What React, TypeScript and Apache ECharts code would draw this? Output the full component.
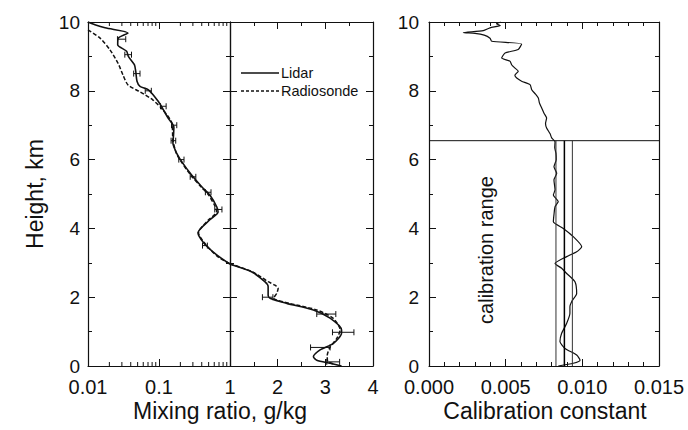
import React, { useEffect, useRef } from "react";
import * as echarts from "echarts";

// ---------- data ----------
const lidarHeight = [10.0, 9.92, 9.83, 9.68, 9.53, 9.34, 9.15, 9.0, 8.76, 8.57, 8.28, 8.13, 8.03, 7.69, 7.45, 7.2, 6.95, 6.7, 6.48, 6.19, 5.94, 5.55, 5.21, 4.97, 4.63, 4.48, 4.25, 3.87, 3.57, 3.23, 2.96, 2.74, 2.45, 2.31, 2.06, 1.97, 1.82, 1.63, 1.39, 1.05, 0.96, 0.66, 0.47, 0.27, 0.17, 0.08, 0.0];
const lidarMixing = [0.01, 0.0125, 0.0174, 0.0366, 0.0267, 0.0262, 0.035, 0.037, 0.045, 0.047, 0.049, 0.054, 0.071, 0.098, 0.115, 0.135, 0.162, 0.16, 0.157, 0.177, 0.209, 0.288, 0.4, 0.52, 0.65, 0.68, 0.52, 0.354, 0.43, 0.65, 1.0, 1.45, 1.73, 1.8, 1.8, 1.84, 2.19, 2.75, 3.1, 3.34, 3.34, 3.17, 2.89, 2.75, 2.82, 3.1, 3.34];

const sondeHeight = [9.77, 9.53, 9.19, 8.8, 8.46, 8.17, 7.97, 7.73, 7.44, 7.06, 6.57, 6.19, 5.94, 5.55, 5.21, 4.97, 4.63, 4.48, 4.25, 3.87, 3.52, 3.17, 2.97, 2.74, 2.45, 2.35, 2.26, 2.11, 1.97, 1.82, 1.63, 1.39, 1.05, 0.8, 0.55, 0.3, 0.13, 0.05];
const sondeMixing = [0.01, 0.0148, 0.0204, 0.0265, 0.0311, 0.0366, 0.054, 0.0823, 0.114, 0.152, 0.157, 0.175, 0.205, 0.28, 0.39, 0.5, 0.62, 0.65, 0.5, 0.36, 0.46, 0.68, 1.0, 1.47, 1.8, 1.94, 2.01, 1.98, 1.91, 2.25, 2.82, 3.16, 3.31, 3.24, 3.1, 3.04, 3.05, 3.2];

const errHeight = [9.5, 9.05, 8.5, 8.0, 7.55, 7.0, 6.55, 6.0, 5.5, 5.05, 4.55, 3.5, 2.0, 1.51, 0.98, 0.54, 0.12];
const errLow = [0.026, 0.033, 0.044, 0.064, 0.105, 0.15, 0.148, 0.19, 0.275, 0.45, 0.61, 0.41, 1.68, 2.82, 3.15, 2.69, 3.03];
const errHigh = [0.034, 0.041, 0.054, 0.078, 0.126, 0.178, 0.172, 0.225, 0.33, 0.54, 0.77, 0.48, 1.9, 3.22, 3.6, 3.1, 3.3];

const calHeight = [10.0, 9.95, 9.9, 9.83, 9.75, 9.69, 9.67, 9.62, 9.53, 9.44, 9.36, 9.2, 9.1, 8.95, 8.86, 8.75, 8.66, 8.57, 8.45, 8.37, 8.28, 8.18, 8.03, 7.9, 7.79, 7.65, 7.5, 7.35, 7.21, 7.05, 6.92, 6.75, 6.63, 6.52, 6.35, 6.18, 6.0, 5.79, 5.6, 5.41, 5.12, 4.97, 4.78, 4.63, 4.4, 4.19, 4.0, 3.76, 3.47, 3.32, 3.18, 2.98, 2.84, 2.69, 2.45, 2.11, 1.87, 1.72, 1.53, 1.24, 0.95, 0.71, 0.51, 0.32, 0.17, 0.08, 0.0];
const calConst = [0.0047, 0.0044, 0.00465, 0.00398, 0.00354, 0.00224, 0.003, 0.0036, 0.00398, 0.00409, 0.00604, 0.00582, 0.00496, 0.00474, 0.00528, 0.0054, 0.00561, 0.00582, 0.0056, 0.00572, 0.00604, 0.00659, 0.0067, 0.00695, 0.00713, 0.0072, 0.00735, 0.0075, 0.00767, 0.0076, 0.00767, 0.0079, 0.008, 0.00822, 0.0082, 0.00828, 0.0083, 0.00815, 0.00833, 0.00815, 0.00822, 0.00811, 0.00843, 0.00822, 0.00815, 0.00811, 0.00876, 0.00941, 0.00996, 0.00963, 0.00898, 0.00822, 0.00865, 0.00898, 0.00952, 0.00963, 0.0093, 0.00919, 0.00919, 0.00898, 0.00865, 0.00854, 0.00887, 0.00963, 0.00985, 0.00941, 0.00843];

const calRangeTop = 6.55;
const calRangeLines = [0.00828, 0.00883, 0.00935];

const logMinorTicks = [0.02, 0.03, 0.04, 0.05, 0.06, 0.07, 0.08, 0.09, 0.2, 0.3, 0.4, 0.5, 0.6, 0.7, 0.8, 0.9];
const logTickLabels = ["0.01", "0.1", "1"];

// ---------- helpers ----------
const FONT = '"Liberation Sans", Arial, Helvetica, sans-serif';
const INK = "#111";

const pairs = (xs: number[], hs: number[]) => xs.map((x, i) => [x, hs[i]]);

const errRender = (_p: any, api: any) => {
  const a = api.coord([api.value(0), api.value(2)]);
  const b = api.coord([api.value(1), api.value(2)]);
  const c = 3;
  const style = { stroke: INK, lineWidth: 1 };
  return {
    type: "group",
    children: [
      { type: "line", shape: { x1: a[0], y1: a[1], x2: b[0], y2: b[1] }, style },
      { type: "line", shape: { x1: a[0], y1: a[1] - c, x2: a[0], y2: a[1] + c }, style },
      { type: "line", shape: { x1: b[0], y1: b[1] - c, x2: b[0], y2: b[1] + c }, style },
    ],
  };
};

const logTickRender = (_p: any, api: any) => {
  const v = api.value(0);
  const b = api.coord([v, 0]);
  const t = api.coord([v, 10]);
  const style = { stroke: INK, lineWidth: 1 };
  return {
    type: "group",
    children: [
      { type: "line", shape: { x1: b[0], y1: b[1], x2: b[0], y2: b[1] - 4 }, style },
      { type: "line", shape: { x1: t[0], y1: t[1], x2: t[0], y2: t[1] + 4 }, style },
    ],
  };
};

function buildOption() {
  const lidar = pairs(lidarMixing, lidarHeight);
  const sonde = pairs(sondeMixing, sondeHeight);
  const errs = errLow.map((lo, i) => [lo, errHigh[i], errHeight[i]]);
  const cal = pairs(calConst, calHeight);

  const axisLine = { show: true, onZero: false, lineStyle: { color: INK, width: 1.2 } };
  const tick = { show: true, inside: true, length: 7, lineStyle: { color: INK, width: 1 } };
  const minor = (n: number) => ({ show: true, splitNumber: n, length: 4, lineStyle: { color: INK, width: 1 } });
  const xLabel = { color: INK, fontSize: 20, lineHeight: 18, fontFamily: FONT };
  const yLabel = { color: INK, fontSize: 19, lineHeight: 16, fontFamily: FONT };
  const noLabel = { show: false };
  const noSplit = { show: false };

  const xBase = (grid: number, pos: string, extra: any) => ({
    gridIndex: grid,
    position: pos,
    axisLine,
    axisTick: tick,
    splitLine: noSplit,
    minorSplitLine: noSplit,
    ...extra,
  });

  const xAxis = [
    xBase(0, "bottom", {
      type: "log", logBase: 10, min: 0.01, max: 1,
      axisLabel: { ...xLabel, margin: 12, formatter: (v: number) => logTickLabels[Math.round(Math.log10(v)) + 2] ?? "" },
    }),
    xBase(0, "top", { type: "log", logBase: 10, min: 0.01, max: 1, axisLabel: noLabel }),
    xBase(1, "bottom", {
      type: "value", min: 1, max: 4, interval: 1, minorTick: minor(2),
      axisLabel: { ...xLabel, margin: 12, formatter: (v: number) => (v === 1 ? "" : String(v)) },
    }),
    xBase(1, "top", { type: "value", min: 1, max: 4, interval: 1, minorTick: minor(2), axisLabel: noLabel }),
    xBase(2, "bottom", {
      type: "value", min: 0, max: 0.015, interval: 0.005, minorTick: minor(5),
      axisLabel: { ...xLabel, margin: 12, formatter: (v: number) => v.toFixed(3) },
    }),
    xBase(2, "top", { type: "value", min: 0, max: 0.015, interval: 0.005, minorTick: minor(5), axisLabel: noLabel }),
  ];

  const yBase = (grid: number, pos: string, lab: any) => ({
    type: "value",
    gridIndex: grid,
    position: pos,
    min: 0,
    max: 10,
    interval: 2,
    axisLine,
    axisTick: tick,
    minorTick: minor(2),
    splitLine: noSplit,
    minorSplitLine: noSplit,
    axisLabel: lab,
  });

  const yAxis = [
    yBase(0, "left", { ...yLabel, margin: 8 }),
    yBase(0, "right", noLabel),
    yBase(1, "left", noLabel),
    yBase(1, "right", noLabel),
    yBase(2, "left", { ...yLabel, margin: 10 }),
    yBase(2, "right", noLabel),
  ];

  const lineStyleSolid = { color: INK, width: 1.6 };
  const lineStyleDash = { color: INK, width: 1.5, type: [4, 2] as any };

  const mkLine = (data: number[][], xi: number, yi: number, ls: any, smooth = 0.25) => ({
    type: "line",
    xAxisIndex: xi,
    yAxisIndex: yi,
    data,
    showSymbol: false,
    symbol: "none",
    smooth,
    lineStyle: ls,
    z: 3,
  });

  const series: any[] = [
    mkLine(sonde.filter((p) => p[0] <= 1), 0, 0, lineStyleDash),
    mkLine(sonde.filter((p) => p[0] >= 1), 2, 2, lineStyleDash),
    mkLine(lidar.filter((p) => p[0] <= 1), 0, 0, lineStyleSolid),
    mkLine(lidar.filter((p) => p[0] >= 1), 2, 2, lineStyleSolid),
    {
      type: "custom", xAxisIndex: 0, yAxisIndex: 0, renderItem: errRender,
      encode: { x: [0, 1], y: 2 }, data: errs.filter((e) => e[1] <= 1), z: 4,
    },
    {
      type: "custom", xAxisIndex: 2, yAxisIndex: 2, renderItem: errRender,
      encode: { x: [0, 1], y: 2 }, data: errs.filter((e) => e[0] >= 1), z: 4,
    },
    {
      type: "custom", xAxisIndex: 0, yAxisIndex: 0, renderItem: logTickRender,
      encode: { x: 0, y: 1 }, data: logMinorTicks.map((v) => [v, 0]), z: 5,
    },
    mkLine(cal, 4, 4, { color: INK, width: 1.2 }, 0.2),
    mkLine([[0, calRangeTop], [0.015, calRangeTop]], 4, 4, { color: INK, width: 1 }, 0),
    ...calRangeLines.map((c, i) =>
      mkLine([[c, 0], [c, calRangeTop]], 4, 4, { color: i === 1 ? "#000" : "#333", width: i === 1 ? 1.5 : 1 }, 0)
    ),
  ];

  const graphic: any[] = [
    {
      type: "text", x: 35, y: 194, rotation: Math.PI / 2,
      style: { text: "Height, km", fontSize: 23, fontFamily: FONT, fill: INK, align: "center", verticalAlign: "middle" },
    },
    {
      type: "text", x: 220, y: 411,
      style: { text: "Mixing ratio, g/kg", fontSize: 23, fontFamily: FONT, fill: INK, align: "center", verticalAlign: "middle" },
    },
    {
      type: "text", x: 545, y: 411,
      style: { text: "Calibration constant", fontSize: 23, fontFamily: FONT, fill: INK, align: "center", verticalAlign: "middle" },
    },
    {
      type: "text", x: 486, y: 250, rotation: Math.PI / 2,
      style: { text: "calibration range", fontSize: 20, fontFamily: FONT, fill: INK, align: "center", verticalAlign: "middle" },
    },
    { type: "line", shape: { x1: 241, y1: 73, x2: 279, y2: 73 }, style: { stroke: INK, lineWidth: 1.5 } },
    { type: "line", shape: { x1: 241, y1: 91, x2: 279, y2: 91 }, style: { stroke: INK, lineWidth: 1.5, lineDash: [3, 2] } },
    {
      type: "text", x: 281, y: 73,
      style: { text: "Lidar", fontSize: 14.5, fontFamily: FONT, fill: INK, align: "left", verticalAlign: "middle" },
    },
    {
      type: "text", x: 281, y: 91,
      style: { text: "Radiosonde", fontSize: 14.5, fontFamily: FONT, fill: INK, align: "left", verticalAlign: "middle" },
    },
  ];

  return {
    animation: false,
    backgroundColor: "#fff",
    grid: [
      { left: 88, top: 22, width: 142, height: 344 },
      { left: 230, top: 22, width: 143, height: 344 },
      { left: 429, top: 22, width: 230, height: 344 },
    ],
    xAxis,
    yAxis,
    series,
    graphic,
  };
}

export default function App() {
  const ref = useRef<HTMLDivElement>(null);
  useEffect(() => {
    document.body.style.margin = "0";
    if (!ref.current) return;
    const chart = echarts.init(ref.current, undefined, { renderer: "svg" });
    chart.setOption(buildOption() as any);
    return () => chart.dispose();
  }, []);
  return <div ref={ref} style={{ width: 688, height: 430, position: "absolute", left: 0, top: 0 }} />;
}
